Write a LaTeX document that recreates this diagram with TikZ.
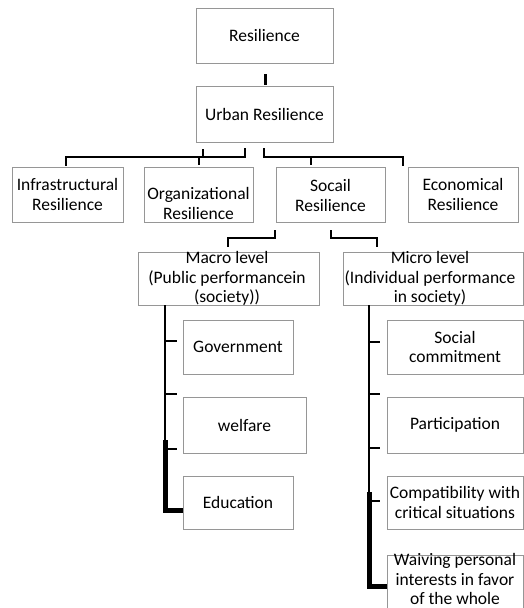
\documentclass[tikz,border=0pt]{standalone}
\usepackage{fontspec}
\setmainfont{Carlito}
\begin{document}
\begin{tikzpicture}[x=1pt,y=-1pt,
  box/.style n args={2}{draw=boxgray, line width=0.8pt, fill=white, inner sep=0pt,
     minimum width=#1, minimum height=#2},
  lbl/.style={inner sep=0pt, align=center, font=\fontsize{17.5}{19.5}\selectfont, text=black},
  conn/.style={draw=black, line width=2pt, line cap=rect, line join=miter},
  thin/.style={draw=black, line width=1.8pt},
  thick/.style={draw=black, line width=5pt, line join=miter}]
\definecolor{boxgray}{RGB}{150,150,150}
\useasboundingbox (0,0) rectangle (524,608);
% boxes
\node[box={137pt}{55pt}] (res) at (264.5,35.5) {};
\node[box={137pt}{56pt}] (urb) at (264.5,114) {};
\node[box={111pt}{55pt}] (inf) at (67.5,194.5) {};
\node[box={109pt}{55pt}] (org) at (198.5,194.5) {};
\node[box={109pt}{55pt}] (soc) at (330.5,194.5) {};
\node[box={110pt}{55pt}] (eco) at (463,194.5) {};
\node[box={181pt}{53pt}] (mac) at (228.5,278.5) {};
\node[box={180pt}{53pt}] (mic) at (433,278.5) {};
\node[box={110pt}{54pt}] (gov) at (238,347) {};
\node[box={123pt}{56pt}] (wel) at (244.5,425) {};
\node[box={110pt}{53pt}] (edu) at (238,502.5) {};
\node[box={136pt}{54pt}] (scm) at (455,347) {};
\node[box={136pt}{56pt}] (par) at (455,425) {};
\node[box={136pt}{53pt}] (cmp) at (455,502.5) {};
\node[box={136pt}{55pt}] (wai) at (455,582.5) {};
% labels
\node[lbl] (res-t) at (res) {Resilience};
\node[lbl] (urb-t) at (urb) {Urban Resilience};
\node[lbl] (inf-t) at (inf) {Infrastructural\\Resilience};
\node[lbl] (org-t) at ([yshift=-9pt]org.center) {Organizational\\Resilience};
\node[lbl] (soc-t) at ([yshift=-1pt]soc.center) {Socail\\Resilience};
\node[lbl] (eco-t) at (eco) {Economical\\Resilience};
\node[lbl] (mac-t) at (227,278.5) {Macro level\\(Public performancein\\(society))};
\node[lbl] (mic-t) at (430,278.5) {Micro level\\(Individual performance\\in society)};
\node[lbl] (gov-t) at (gov) {Government};
\node[lbl] (wel-t) at (wel) {welfare};
\node[lbl] (edu-t) at (edu) {Education};
\node[lbl] (scm-t) at (scm) {Social\\commitment};
\node[lbl] (par-t) at (par) {Participation};
\node[lbl] (cmp-t) at (cmp) {Compatibility with\\critical situations};
\node[lbl] (wai-t) at (455,579) {Waiving personal\\interests in favor\\of the whole};
% connector points
\coordinate (ru1) at (265,74);
\coordinate (ru2) at (265,85);
\draw[conn, line width=3pt, line cap=butt] (ru1) -- (ru2);
% urban -> left pair
\coordinate (l1) at (66,165);
\coordinate (l2) at (66,157);
\coordinate (l3) at (245,157);
\coordinate (l4) at (245,149);
\coordinate (l5) at (203,149);
\coordinate (l6) at (203,157);
\coordinate (l7) at (199,157);
\coordinate (l8) at (199,165);
\draw[conn] (l1) -- (l2) -- (l3) -- (l4);
\draw[conn, line cap=butt] (l5) -- (l6);
\draw[conn, line cap=butt] (l7) -- (l8);
% urban -> right pair
\coordinate (r1) at (264,149);
\coordinate (r2) at (264,157);
\coordinate (r3) at (403,157);
\coordinate (r4) at (403,165);
\coordinate (r5) at (311,157);
\coordinate (r6) at (311,165);
\draw[conn] (r1) -- (r2) -- (r3) -- (r4);
\draw[conn, line cap=butt] (r5) -- (r6);
% social -> macro / micro
\coordinate (s1) at (275,231);
\coordinate (s2) at (275,238);
\coordinate (s3) at (228,238);
\coordinate (s4) at (228,246);
\coordinate (s5) at (331,231);
\coordinate (s6) at (331,238);
\coordinate (s7) at (377,238);
\coordinate (s8) at (377,246);
\draw[conn] (s1) -- (s2) -- (s3) -- (s4);
\draw[conn] (s5) -- (s6) -- (s7) -- (s8);
% macro trunk
\coordinate (m0) at (165,305);
\coordinate (m1) at (165,341);
\coordinate (m2) at (165,394);
\coordinate (m3) at (165,449);
\coordinate (m4) at (165,440);
\coordinate (m5) at (165,510);
\draw[thin] (m0) -- (m3);
\draw[thin] (m1) -- ++(12,0);
\draw[thin] (m2) -- ++(12,0);
\draw[thin] (m3) -- ++(12,0);
\draw[thick] (m4) -- (m5) -- (edu.west |- m5);
% micro trunk
\coordinate (n0) at (369,305);
\coordinate (n1) at (369,342);
\coordinate (n2) at (369,394);
\coordinate (n3) at (369,448);
\coordinate (n4) at (369,501);
\coordinate (n5) at (369,492);
\coordinate (n6) at (369,586);
\draw[thin] (n0) -- (n4);
\draw[thin] (n1) -- ++(11,0);
\draw[thin] (n2) -- ++(11,0);
\draw[thin] (n3) -- ++(11,0);
\draw[thin] (n4) -- ++(11,0);
\draw[thick] (n5) -- (n6) -- (wai.west |- n6);
\end{tikzpicture}
\end{document}
